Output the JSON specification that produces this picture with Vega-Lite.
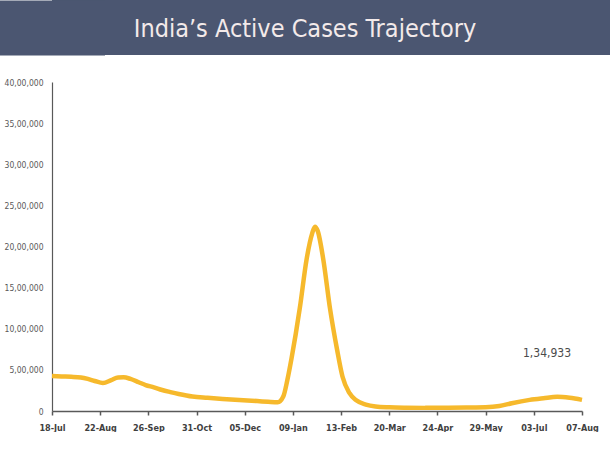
{
  "$schema": "https://vega.github.io/schema/vega-lite/v6.json",
  "padding": 0,
  "background": "white",
  "spacing": 23,
  "config": {"view": {"stroke": null}},
  "vconcat": [
    {
      "width": 558,
      "height": 55,
      "view": {"fill": "#4b5671", "stroke": null},
      "data": {"values": [{"title": "India’s Active Cases Trajectory"}]},
      "mark": {"type": "text", "fontSize": 25, "color": "#f3eaea", "font": "DejaVu Sans Condensed, sans-serif", "dx": -26, "dy": 1},
      "encoding": {
        "text": {"field": "title"},
        "y": {
          "field": "title", "type": "nominal",
          "axis": {"title": null, "labels": false, "ticks": false, "domainColor": "#4b5671", "domainWidth": 105, "domainCap": "butt"}
        }
      }
    },
    {
      "width": 530,
      "height": 329,
      "data": {"values": [
        {"date": "2021-07-18", "cases": 425000},
        {"date": "2021-07-25", "cases": 420000},
        {"date": "2021-08-01", "cases": 416000},
        {"date": "2021-08-08", "cases": 408000},
        {"date": "2021-08-13", "cases": 390000},
        {"date": "2021-08-18", "cases": 365000},
        {"date": "2021-08-24", "cases": 340000},
        {"date": "2021-08-30", "cases": 375000},
        {"date": "2021-09-04", "cases": 408000},
        {"date": "2021-09-08", "cases": 410000},
        {"date": "2021-09-13", "cases": 390000},
        {"date": "2021-09-19", "cases": 350000},
        {"date": "2021-09-24", "cases": 316000},
        {"date": "2021-09-30", "cases": 288000},
        {"date": "2021-10-06", "cases": 255000},
        {"date": "2021-10-12", "cases": 230000},
        {"date": "2021-10-18", "cases": 207000},
        {"date": "2021-10-28", "cases": 176000},
        {"date": "2021-11-08", "cases": 160000},
        {"date": "2021-11-19", "cases": 146000},
        {"date": "2021-12-01", "cases": 133000},
        {"date": "2021-12-14", "cases": 121000},
        {"date": "2021-12-22", "cases": 112000},
        {"date": "2021-12-29", "cases": 106000},
        {"date": "2022-01-02", "cases": 175000},
        {"date": "2022-01-05", "cases": 380000},
        {"date": "2022-01-08", "cases": 640000},
        {"date": "2022-01-11", "cases": 930000},
        {"date": "2022-01-14", "cases": 1250000},
        {"date": "2022-01-19", "cases": 1850000},
        {"date": "2022-01-23", "cases": 2160000},
        {"date": "2022-01-25", "cases": 2240000},
        {"date": "2022-01-27", "cases": 2190000},
        {"date": "2022-01-31", "cases": 1850000},
        {"date": "2022-02-05", "cases": 1240000},
        {"date": "2022-02-10", "cases": 754000},
        {"date": "2022-02-14", "cases": 420000},
        {"date": "2022-02-19", "cases": 220000},
        {"date": "2022-02-24", "cases": 130000},
        {"date": "2022-03-03", "cases": 78000},
        {"date": "2022-03-10", "cases": 55000},
        {"date": "2022-03-20", "cases": 45000},
        {"date": "2022-04-01", "cases": 40000},
        {"date": "2022-04-15", "cases": 38000},
        {"date": "2022-05-01", "cases": 40000},
        {"date": "2022-05-15", "cases": 42000},
        {"date": "2022-05-29", "cases": 45000},
        {"date": "2022-06-08", "cases": 60000},
        {"date": "2022-06-17", "cases": 95000},
        {"date": "2022-06-30", "cases": 135000},
        {"date": "2022-07-10", "cases": 155000},
        {"date": "2022-07-20", "cases": 172000},
        {"date": "2022-07-29", "cases": 160000},
        {"date": "2022-08-07", "cases": 134933, "label": "1,34,933"}
      ]},
      "encoding": {
        "x": {
          "field": "date", "type": "temporal",
          "scale": {"domain": ["2021-07-18", "2022-08-07"]},
          "axis": {
            "title": null, "grid": false,
            "values": ["2021-07-18", "2021-08-22", "2021-09-26", "2021-10-31", "2021-12-05", "2022-01-09", "2022-02-13", "2022-03-20", "2022-04-24", "2022-05-29", "2022-07-03", "2022-08-07"],
            "format": "%d-%b",
            "labelFont": "DejaVu Sans Condensed, sans-serif",
            "labelFontSize": 9, "labelColor": "#404040", "labelFontWeight": "bold",
            "domainColor": "#595959", "domainWidth": 1.5,
            "tickColor": "#595959", "tickSize": 4, "tickWidth": 1.5,
            "labelPadding": 8, "labelFlush": false
          }
        },
        "y": {
          "field": "cases", "type": "quantitative",
          "scale": {"domain": [0, 4000000]},
          "axis": {
            "title": null, "grid": false, "ticks": false, "tickSize": 0,
            "values": [0, 500000, 1000000, 1500000, 2000000, 2500000, 3000000, 3500000, 4000000],
            "labelExpr": "datum.value == 0 ? '0' : format(datum.value / 100000, 'd') + ',00,000'",
            "labelFont": "DejaVu Sans Condensed, sans-serif",
            "labelFontSize": 8.5, "labelColor": "#595959",
            "domainColor": "#595959", "domainWidth": 1.2,
            "labelPadding": 9, "minExtent": 52
          }
        }
      },
      "layer": [
        {
          "mark": {"type": "line", "color": "#f6b92c", "strokeWidth": 4.5, "interpolate": "monotone"}
        },
        {
          "transform": [{"filter": "isValid(datum.label)"}],
          "mark": {"type": "text", "dx": -35, "dy": -47, "fontSize": 12, "color": "#4a4a4a", "font": "DejaVu Sans Condensed, sans-serif"},
          "encoding": {"text": {"field": "label"}}
        }
      ]
    }
  ]
}
